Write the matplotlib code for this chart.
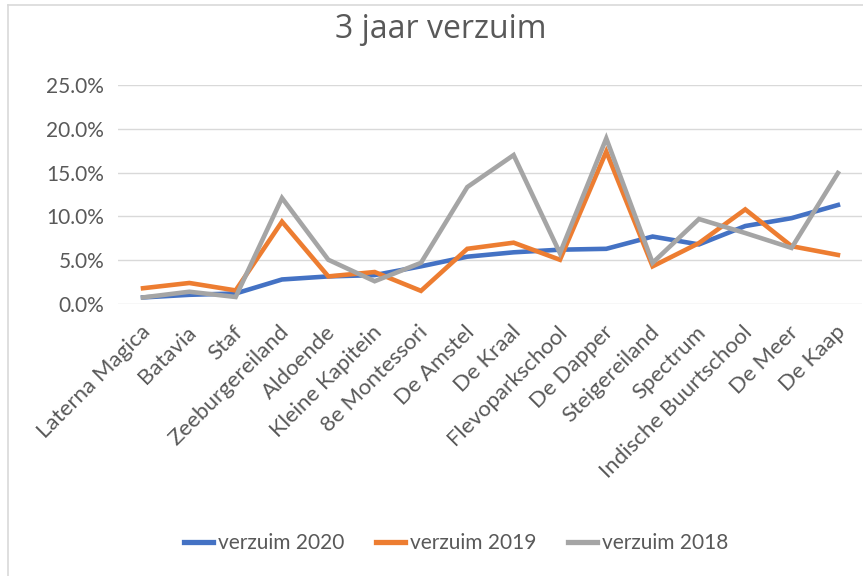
import matplotlib
matplotlib.use("Agg")
import matplotlib.pyplot as plt
import matplotlib.transforms as mtrans
from matplotlib.ticker import PercentFormatter
from matplotlib.lines import Line2D

categories = ["Laterna Magica", "Batavia", "Staf", "Zeeburgereiland", "Aldoende",
              "Kleine Kapitein", "8e Montessori", "De Amstel", "De Kraal",
              "Flevoparkschool", "De Dapper", "Steigereiland", "Spectrum",
              "Indische Buurtschool", "De Meer", "De Kaap"]
verzuim_2020 = [0.75, 1.05, 1.2, 2.8, 3.15, 3.3, 4.3, 5.4, 5.9, 6.2, 6.3, 7.7, 6.8, 8.9, 9.8, 11.3]
verzuim_2019 = [1.8, 2.4, 1.55, 9.4, 3.15, 3.65, 1.5, 6.3, 7.0, 5.05, 17.4, 4.3, 6.95, 10.8, 6.6, 5.6]
verzuim_2018 = [0.75, 1.4, 0.8, 12.1, 5.05, 2.6, 4.7, 13.35, 17.0, 5.8, 18.9, 4.7, 9.7, 8.1, 6.4, 14.95]
series_names = ["verzuim 2020", "verzuim 2019", "verzuim 2018"]
yticks = [0, 5, 10, 15, 20, 25]

colors = ["#4472C4", "#ED7D31", "#A5A5A5"]
txt = "#595959"
plt.rcParams['font.family'] = ['Lato', 'DejaVu Sans']

W, H = 863, 576
fig = plt.figure(figsize=(W / 100, H / 100), dpi=100)
ax = fig.add_axes([118 / W, 1 - 304 / H, (862 - 118) / W, (304 - 85) / H])

x = list(range(len(categories)))
for vals, c, name in zip([verzuim_2020, verzuim_2019, verzuim_2018], colors, series_names):
    ax.plot(x, [v / 100 for v in vals], color=c, lw=3.3, solid_joinstyle='miter', label=name)

ax.set_xlim(-0.54, len(categories) - 1 + 0.52)
ax.set_ylim(0, 0.25)
ax.set_yticks([t / 100 for t in yticks])
ax.yaxis.set_major_formatter(PercentFormatter(1.0, decimals=1))
ax.grid(axis='y', color='#D9D9D9', lw=1.0)
ax.set_axisbelow(True)
for s in ax.spines.values():
    s.set_visible(False)
ax.tick_params(axis='both', length=0, colors=txt, labelsize=15)
ax.tick_params(axis='y', pad=10)
ax.set_xticks(x)
ax.set_xticklabels(categories, rotation=45, ha='right', va='center', rotation_mode='anchor',
                   fontsize=16)
ax.tick_params(axis='x', pad=18)
offset = mtrans.ScaledTranslation(4 / 100, 0, fig.dpi_scale_trans)
for lab in ax.get_xticklabels():
    lab.set_transform(lab.get_transform() + offset)

fig.text(441 / W, 1 - 30 / H, "3 jaar verzuim", ha='center', va='center',
         fontsize=23, color=txt, family=['Open Sans', 'DejaVu Sans'])

handles = [Line2D([0], [0], color=c, lw=3.8) for c in colors]
fig.legend(handles, series_names, loc='center', bbox_to_anchor=(456 / W, 1 - 543 / H),
           ncol=3, frameon=False, fontsize=15, labelcolor=txt, handlelength=1.4,
           handletextpad=0.25, columnspacing=1.5)

# chart border (top and left visible)
fig.add_artist(Line2D([8 / W, 8 / W], [0, 1 - 5 / H], color='#D9D9D9', lw=1.2))
fig.add_artist(Line2D([8 / W, 1], [1 - 5 / H, 1 - 5 / H], color='#D9D9D9', lw=1.2))

fig.savefig("out.png", dpi=100)
